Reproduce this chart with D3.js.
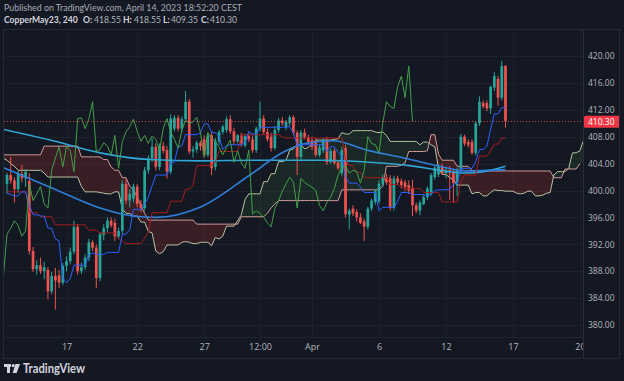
<!DOCTYPE html>
<html>
<head>
<meta charset="utf-8">
<script src="https://cdn.jsdelivr.net/npm/d3@7/dist/d3.min.js"></script>
<style>
html,body{margin:0;padding:0;background:#141823;overflow:hidden;}
svg{display:block;font-family:"Open Sans","Noto Sans",sans-serif;}
</style>
</head>
<body>
<svg id="chart" width="624" height="381"></svg>
<script>
// ---------- DATA (4h candles, index 0 = first visible bar) ----------
const opens = [401.0,402.3,401.5,400.2,402.5,401.8,401.4,391.0,388.3,388.9,
 388.0,388.2,385.0,387.3,387.4,386.3,388.8,389.5,390.9,394.6,
 388.0,388.6,390.0,392.3,391.5,387.0,393.4,394.4,395.5,395.2,
 393.2,394.0,401.0,398.5,398.8,400.6,398.0,397.4,403.0,404.8,
 406.5,403.5,406.6,406.0,402.8,409.2,410.8,409.2,410.6,413.2,
 405.8,406.1,407.1,407.6,405.3,408.2,403.5,407.3,408.7,409.0,
 410.6,408.8,407.3,408.2,406.7,408.1,407.6,406.0,409.2,410.7,
 408.7,408.0,406.3,409.0,410.4,409.4,410.0,410.9,408.6,405.0,
 408.6,407.9,407.5,407.4,405.3,406.0,407.5,404.2,405.9,404.2,
 402.6,406.3,396.4,397.3,396.8,396.0,395.4,394.6,397.3,398.3,
 398.4,401.0,402.0,401.8,397.4,401.8,401.4,401.2,400.8,400.4,
 397.8,397.0,398.0,399.0,399.5,402.0,402.4,403.5,402.6,403.0,
 402.6,401.1,403.0,408.0,407.2,407.2,405.6,410.0,413.0,413.0,
 412.2,415.3,416.6,413.8,418.55];
const highs = [402.6,405.0,402.0,402.9,403.8,403.2,402.6,391.6,389.6,390.0,
 389.4,388.6,387.9,388.5,388.2,389.2,390.2,391.5,395.5,395.0,
 389.3,390.5,392.8,392.6,392.0,393.8,395.0,396.0,396.0,395.8,
 394.5,401.5,401.8,400.2,401.0,401.0,398.6,403.5,405.2,407.8,
 407.0,407.0,407.2,406.6,411.3,411.2,411.2,411.0,414.8,413.6,
 406.6,407.4,407.4,408.2,408.6,408.8,407.8,409.0,409.8,411.0,
 411.2,409.3,408.4,408.6,408.4,408.5,408.2,409.5,413.2,411.2,
 409.2,408.6,409.6,410.8,410.9,410.5,411.2,411.2,408.9,409.0,
 409.2,408.3,408.0,407.8,406.8,407.8,408.0,406.2,406.2,404.5,
 406.5,406.8,397.3,397.8,397.2,396.6,395.8,397.6,398.8,400.2,
 401.5,402.4,402.5,402.3,402.2,402.2,401.8,401.6,401.5,401.6,
 398.2,398.5,399.4,400.6,402.6,403.8,403.9,404.0,403.4,403.6,
 403.2,403.4,408.4,408.3,407.6,407.6,410.3,414.0,413.4,413.4,
 415.6,417.6,417.0,419.3,418.55];
const lows = [399.5,401.0,398.2,399.6,401.2,400.5,390.5,387.9,387.5,387.6,
 386.8,383.8,384.6,382.3,385.5,385.9,388.0,389.0,390.5,387.5,
 387.6,388.2,389.5,391.0,385.5,386.5,392.6,393.8,394.5,392.5,
 392.8,393.5,398.0,397.5,398.2,397.5,396.8,397.0,402.5,404.2,
 403.0,403.0,405.5,401.8,402.4,408.8,408.8,408.6,410.2,405.4,
 404.9,405.6,405.9,404.9,405.0,402.3,403.0,406.8,408.3,408.6,
 408.4,406.8,407.0,406.5,406.4,407.2,405.6,405.6,408.8,408.4,
 407.3,405.8,406.0,408.6,409.6,409.0,409.6,408.2,402.3,404.6,
 407.6,406.8,406.0,405.0,405.0,405.6,403.8,404.0,403.8,403.0,
 402.2,396.0,394.2,396.2,395.4,395.0,392.5,394.2,396.9,397.9,
 398.0,400.6,400.8,397.0,397.0,400.8,400.3,399.9,399.5,396.2,
 396.6,396.3,397.8,398.6,399.2,401.6,402.0,402.3,401.8,398.6,
 398.2,399.2,402.6,406.6,406.4,405.3,405.2,409.6,412.2,411.8,
 411.4,414.8,412.6,413.4,409.35];
const closes = [402.3,401.5,400.2,402.5,401.8,402.8,391.0,388.3,388.9,388.0,
 388.6,385.0,387.3,386.6,386.3,388.8,389.5,390.9,394.6,388.0,
 388.6,390.0,392.3,391.5,387.0,393.5,394.4,395.5,394.8,393.2,
 394.0,401.0,398.5,399.5,400.6,398.0,397.4,403.0,404.8,406.5,
 403.5,406.6,405.9,402.8,410.7,410.8,409.2,410.6,413.2,405.8,
 406.1,407.1,406.6,405.3,408.2,403.3,407.3,408.7,409.5,410.6,
 408.8,407.3,408.2,407.0,408.1,407.6,406.0,409.2,410.7,408.7,
 407.6,406.3,409.0,410.4,410.0,410.2,410.9,408.6,405.0,408.6,
 407.9,407.2,406.5,405.3,406.4,407.5,404.2,405.9,404.1,403.3,
 406.0,396.5,397.0,396.6,396.0,395.2,394.6,397.3,398.5,399.9,
 401.0,402.0,401.2,397.4,401.8,401.2,400.8,400.5,400.0,397.8,
 397.0,398.2,399.0,400.3,402.3,403.4,403.6,402.6,403.0,402.8,
 401.1,403.0,408.0,407.0,406.8,405.6,410.0,413.2,412.5,412.2,
 415.4,417.0,413.8,418.5,410.30];

// Ichimoku conversion line (per bar)
const tenkan = [399.6,399.4,399.2,399.2,399.8,399.8,397.8,396.4,396.4,396.2,
 396.2,394.4,394.4,392.8,392.5,387.0,386.3,386.9,388.9,388.9,
 388.9,388.9,390.5,390.7,390.5,390.5,390.5,390.8,390.8,390.8,
 390.8,393.5,393.5,394.2,397.2,397.2,397.2,398.0,399.0,400.7,
 402.3,402.3,402.3,402.3,404.1,404.2,406.6,406.6,408.3,408.3,
 408.3,408.3,408.6,409.9,409.9,408.6,408.6,408.0,406.1,406.7,
 406.8,406.8,406.8,406.8,407.1,408.8,408.4,408.4,409.4,409.4,
 409.4,409.4,409.4,409.4,409.4,409.4,409.5,408.5,406.8,406.8,
 406.8,406.8,406.8,406.8,406.8,406.8,405.8,406.5,406.5,405.7,
 405.1,402.0,401.1,401.1,401.1,400.5,399.7,399.7,399.7,399.7,
 397.0,397.5,397.5,397.5,397.5,398.4,399.7,399.7,399.7,399.4,
 399.4,399.4,399.4,399.2,399.4,400.0,400.1,400.1,400.1,400.2,
 400.9,401.1,403.3,403.3,403.3,403.3,404.3,406.1,406.1,406.6,
 409.1,411.4,411.4,412.3,412.3];
// Ichimoku base line (per bar)
const kijun = [399.8,399.8,399.8,399.8,399.8,399.8,396.7,396.7,396.7,396.1,
 396.1,396.1,396.1,394.9,394.9,394.9,394.9,394.9,394.9,394.9,
 394.9,394.9,394.1,394.1,394.1,393.7,393.7,393.7,393.7,393.7,
 392.8,392.5,392.1,392.1,392.1,392.1,392.1,392.9,393.8,396.7,
 396.7,396.7,396.7,396.7,398.4,398.4,398.4,398.4,400.2,400.2,
 400.7,403.7,403.7,403.7,403.7,403.8,404.2,405.8,405.8,405.8,
 405.8,405.8,405.8,408.3,408.3,408.3,408.3,408.3,408.3,408.3,
 408.3,408.3,408.3,408.3,408.0,407.8,407.8,407.8,407.8,407.8,
 407.8,407.8,407.8,407.8,407.8,407.8,407.8,407.8,407.8,407.8,
 407.8,404.6,403.7,403.7,402.7,402.7,401.9,401.9,401.9,401.9,
 401.9,401.9,401.9,400.9,400.9,400.9,400.4,400.3,400.3,400.3,
 400.3,400.3,399.7,399.7,399.7,399.7,399.7,398.3,398.3,398.3,
 398.3,398.3,401.3,402.3,402.3,402.3,402.3,405.1,405.1,405.1,
 405.9,406.9,406.9,407.8,407.8];
// Leading spans, per bar starting at index -1 (already displaced forward)
const spanStart = -1;
const spanA = [404.8,404.5,404.0,403.6,403.0,403.0,403.0,403.0,403.0,403.0,
 403.0,402.6,402.0,402.0,402.0,402.0,402.0,402.0,402.0,402.0,
 402.0,400.6,399.8,399.8,399.8,399.8,399.7,399.6,399.5,399.5,
 399.8,399.8,397.3,396.6,396.6,396.2,396.2,395.3,395.3,393.9,
 393.7,391.0,390.6,390.9,391.9,391.9,391.9,391.9,392.3,392.4,
 392.3,392.1,392.1,392.3,392.3,392.3,391.8,393.0,392.8,393.2,
 394.7,394.7,394.7,395.5,396.4,398.7,399.5,399.5,399.5,399.5,
 401.3,401.3,402.5,402.5,404.3,404.3,404.5,406.0,406.2,406.8,
 406.8,406.2,406.4,406.9,407.5,407.5,407.5,407.5,407.5,407.6,
 407.7,408.6,408.4,408.4,408.9,408.9,408.9,408.9,408.9,408.9,
 408.7,408.6,408.7,408.2,407.3,407.3,407.3,407.3,407.3,407.3,
 407.3,407.3,406.8,407.2,407.2,406.8,406.5,403.3,402.4,402.4,
 401.9,401.6,400.8,400.8,400.8,400.8,399.5,399.7,399.7,399.2,
 399.2,399.7,400.1,400.0,400.0,399.9,399.9,399.9,399.6,399.5,
 399.6,399.9,399.9,399.2,399.2,399.3,399.6,399.7,402.3,402.8,
 402.8,402.8,403.3,405.6,405.6,405.9,407.5];
const spanB = [405.3,405.3,405.3,405.3,405.3,405.3,405.3,405.3,405.3,405.3,
 405.3,406.6,406.6,406.6,406.6,406.6,406.6,406.6,406.6,406.6,
 406.6,405.0,405.0,405.0,405.0,405.0,405.0,404.6,404.6,403.5,
 403.0,403.0,401.9,401.9,400.6,400.1,399.0,397.8,396.6,395.6,
 395.6,395.6,395.6,395.6,395.6,395.6,395.6,395.6,395.6,395.6,
 395.6,395.6,395.0,395.0,395.0,395.0,395.0,395.0,395.0,395.0,
 395.0,395.0,395.0,395.0,396.1,396.1,396.1,396.1,396.1,396.1,
 396.1,396.6,397.4,398.0,398.5,398.5,398.5,398.5,398.5,398.5,
 398.5,398.5,398.5,398.5,398.5,398.5,398.5,398.5,398.5,398.5,
 398.5,400.1,400.1,400.1,400.1,400.1,400.1,400.1,400.1,400.1,
 400.1,400.1,400.6,403.6,403.6,403.6,403.6,403.8,404.1,405.8,
 405.8,405.8,405.8,405.8,405.9,408.3,408.3,405.4,404.5,404.5,
 404.5,404.5,403.6,403.6,403.6,403.6,403.0,402.9,402.9,402.9,
 402.9,402.9,402.9,402.9,402.9,402.9,402.9,402.9,402.9,402.9,
 402.9,402.9,402.9,402.9,402.9,402.9,402.9,402.9,401.9,401.9,
 401.9,403.2,403.2,403.2,403.2,404.0];
const laggingShift = -25;
// Moving averages, read as [bar index, price] vertices
const maSlow = [[-1,409.1],[11.6,407.5],[25,405.6],[38.4,404.6],[51.9,404.4],[65.3,404.5],[86,404.5],[97.6,404.2],[108.3,403.7],[116.4,403.0],[123.1,402.6],[128,402.8],[134,403.6]];
const maFast = [[-1,403.4],[11.6,400.5],[25,397.4],[33.9,396.2],[40,396.0],[51.9,397.5],[65.3,402.3],[74.2,405.7],[80.1,407.0],[87.6,407.4],[96.8,406.0],[107,404.8],[116.4,403.6],[123.1,402.9],[134,403.1]];

const priceTicks = [380,384,388,392,396,400,404,408,412,416,420];
const timeTickIdx = [16,35,53,68,82,100,118,136,154];
const timeTickLabels = ["17","22","27","12:00","Apr","6","12","17","20"];
const lastPrice = 410.30;
const symbolLabel = "CopperMay23, 240";
const ohlcLabels = ["O:","H:","L:","C:"];
const ohlcValues = ["418.55","418.55","409.35","410.30"];

// ---------- DRAWING ----------
const W=624,H=381;
const P={l:4,r:583,t:29,b:337};
const BG='#141823', GRID='#1d212c', TXT='#b2b5be';
const UP='#26a69a', DN='#ef5350';
const FONT='"Open Sans","Noto Sans",sans-serif';
const HFONT='Lato,"Open Sans",sans-serif';
const svg=d3.select('#chart');
svg.append('rect').attr('width',W).attr('height',H).attr('fill',BG);

const x=d3.scaleLinear().domain([0,134]).range([7,505.5]);
const y=d3.scaleLinear().domain([380,420]).range([325,56]);

svg.append('defs').append('clipPath').attr('id','plotClip').append('rect')
  .attr('x',P.l).attr('y',P.t).attr('width',P.r-P.l).attr('height',P.b-P.t);

const plot=svg.append('g').attr('clip-path','url(#plotClip)');
// grid
plot.append('g').selectAll('line').data(timeTickIdx).join('line')
  .attr('x1',d=>Math.round(x(d))+0.5).attr('x2',d=>Math.round(x(d))+0.5)
  .attr('y1',P.t).attr('y2',P.b).attr('stroke',GRID).attr('stroke-width',1);
plot.append('g').selectAll('line').data(priceTicks).join('line')
  .attr('y1',d=>Math.round(y(d))+0.5).attr('y2',d=>Math.round(y(d))+0.5)
  .attr('x1',P.l).attr('x2',P.r).attr('stroke',GRID).attr('stroke-width',1);

// cloud
function lerpArr(arr,start){
  return t=>{const k=t-start;let k0=Math.floor(k);if(k0<0)k0=0;if(k0>=arr.length-1)return arr[arr.length-1];
    const f=k-k0;return arr[k0]*(1-f)+arr[k0+1]*f;};
}
const fa=lerpArr(spanA,spanStart), fb=lerpArr(spanB,spanStart);
const ts=d3.range(spanStart, spanStart+spanA.length-1+1e-9, 0.05);
plot.append('path').datum(ts).attr('fill','rgba(244,67,54,0.17)')
  .attr('d',d3.area().x(t=>x(t)).y0(t=>y(fa(t))).y1(t=>y(Math.max(fa(t),fb(t)))));
plot.append('path').datum(ts).attr('fill','rgba(67,160,71,0.13)')
  .attr('d',d3.area().x(t=>x(t)).y0(t=>y(fb(t))).y1(t=>y(Math.max(fa(t),fb(t)))));

const lineIdx=start=>d3.line().x((d,k)=>x(k+start)).y(d=>y(d));
const lineXY=d3.line().x(d=>x(d[0])).y(d=>y(d[1])).curve(d3.curveMonotoneX);

plot.append('path').datum(spanA).attr('fill','none').attr('stroke','#b9c4a2').attr('stroke-width',1).attr('d',lineIdx(spanStart));
plot.append('path').datum(spanB).attr('fill','none').attr('stroke','#d39c98').attr('stroke-width',1).attr('d',lineIdx(spanStart));

// candles
const candles=d3.range(opens.length).map(i=>({i,o:opens[i],h:highs[i],l:lows[i],c:closes[i]}));
const cg=plot.append('g');
cg.selectAll('line').data(candles).join('line')
  .attr('x1',d=>x(d.i)).attr('x2',d=>x(d.i)).attr('y1',d=>y(d.h)).attr('y2',d=>y(d.l))
  .attr('stroke',d=>d.c>=d.o?UP:DN).attr('stroke-width',1);
cg.selectAll('rect').data(candles).join('rect')
  .attr('x',d=>x(d.i)-1.35).attr('width',2.7)
  .attr('y',d=>y(Math.max(d.o,d.c))).attr('height',d=>Math.max(1,Math.abs(y(d.o)-y(d.c))))
  .attr('fill',d=>d.c>=d.o?UP:DN);

// moving averages
plot.append('path').datum(maSlow).attr('fill','none').attr('stroke','#2fa6d6').attr('stroke-width',1.6).attr('d',lineXY);
plot.append('path').datum(maFast).attr('fill','none').attr('stroke','#2f7fd9').attr('stroke-width',1.6).attr('d',lineXY);
// ichimoku lines
plot.append('path').datum(kijun).attr('fill','none').attr('stroke','#a31d1d').attr('stroke-width',1).attr('d',lineIdx(0));
plot.append('path').datum(tenkan).attr('fill','none').attr('stroke','#2962ff').attr('stroke-width',1).attr('d',lineIdx(0));
plot.append('path').datum(closes.slice(24)).attr('fill','none').attr('stroke','#43a047').attr('stroke-width',1).attr('d',lineIdx(24+laggingShift));

// last price line
plot.append('line').attr('x1',P.l).attr('x2',P.r).attr('y1',Math.round(y(lastPrice))+0.5).attr('y2',Math.round(y(lastPrice))+0.5)
  .attr('stroke',DN).attr('stroke-width',1).attr('stroke-dasharray','1,2').attr('opacity',0.85);

// time axis
const xAxis=d3.axisBottom(x).tickValues(timeTickIdx).tickFormat((d,i)=>timeTickLabels[i]).tickSize(0).tickPadding(7);
const gx=svg.append('g').attr('transform',`translate(0,${P.b})`).call(xAxis);
gx.select('.domain').remove();
gx.attr('font-family',FONT).attr('font-size',9);
gx.selectAll('text').attr('fill',TXT);

// price axis panel
svg.append('rect').attr('x',P.r).attr('y',P.t).attr('width',W-P.r).attr('height',358-P.t).attr('fill',BG);
const yAxis=d3.axisRight(y).tickValues(priceTicks).tickFormat(d3.format('.2f')).tickSize(0).tickPadding(5);
const gy=svg.append('g').attr('transform',`translate(${P.r},0)`).call(yAxis);
gy.select('.domain').remove();
gy.attr('font-family',FONT).attr('font-size',8.5);
gy.selectAll('text').attr('fill',TXT);

// last price label
const ly=y(lastPrice);
svg.append('rect').attr('x',P.r+1).attr('y',ly-5.5).attr('width',36).attr('height',12).attr('rx',1.5).attr('fill','#f23645');
svg.append('text').attr('x',P.r+5).attr('y',ly+0.8).attr('dy','0.33em').attr('font-family',FONT).attr('font-size',8.5).attr('fill','#ffffff').text(d3.format('.2f')(lastPrice));

// frame lines
svg.append('line').attr('x1',P.r+0.5).attr('x2',P.r+0.5).attr('y1',P.t).attr('y2',358).attr('stroke','#2a2e39');
svg.append('line').attr('x1',P.l).attr('x2',P.r).attr('y1',P.b+0.5).attr('y2',P.b+0.5).attr('stroke','#20242f');
svg.append('rect').attr('x',P.l-0.5).attr('y',P.t+0.5).attr('width',620-P.l).attr('height',358-P.t).attr('fill','none').attr('stroke','#262a35');

// header
svg.append('text').attr('x',4).attr('y',10.5).attr('font-family',HFONT).attr('font-size',9.5).attr('fill','#a9acb5')
  .attr('textLength',238).attr('lengthAdjust','spacingAndGlyphs')
  .text('Published on TradingView.com, April 14, 2023 18:52:20 CEST');
const hdrX = {sym:4, lab:[83,123,163,201], val:[94,134,171,210]};
const hg=svg.append('g').attr('font-family',HFONT).attr('font-size',8.6);
hg.append('text').attr('x',hdrX.sym).attr('y',22.5).attr('font-weight',700).attr('fill','#d1d4dc').text(symbolLabel);
ohlcLabels.forEach((lab,k)=>{
  hg.append('text').attr('x',hdrX.lab[k]).attr('y',22.5).attr('font-weight',700).attr('fill','#d1d4dc').text(lab);
  hg.append('text').attr('x',hdrX.val[k]).attr('y',22.5).attr('font-weight',400).attr('fill','#b2b5be').text(ohlcValues[k]);
});

// footer logo
const lg=svg.append('g').attr('fill','#d1d4dc');
lg.append('rect').attr('x',4).attr('y',364).attr('width',7).attr('height',3);
lg.append('rect').attr('x',7).attr('y',364).attr('width',3).attr('height',9);
lg.append('circle').attr('cx',13.2).attr('cy',365.6).attr('r',1.6);
lg.append('path').attr('d','M15.5,364 L20,364 L16.6,373 L12.6,373 Z');
svg.append('text').attr('x',23).attr('y',373).attr('font-family',HFONT).attr('font-size',12.5).attr('font-weight',700)
  .attr('fill','#d1d4dc').attr('textLength',62).attr('lengthAdjust','spacingAndGlyphs').text('TradingView');
</script>
</body>
</html>
